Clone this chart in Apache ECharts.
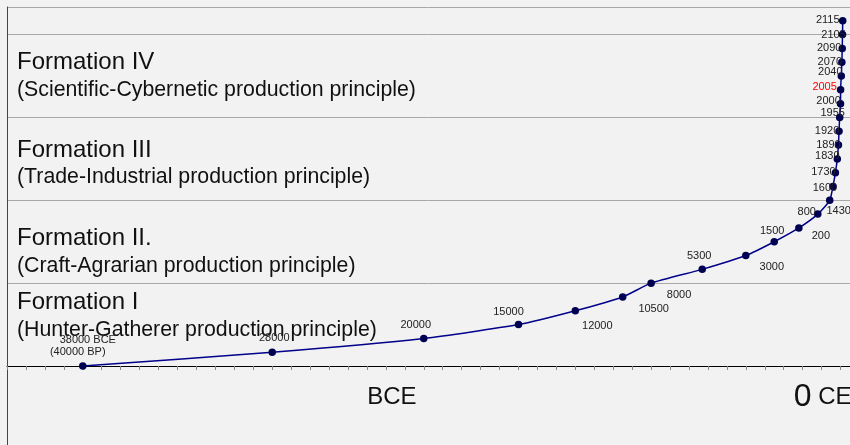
<!DOCTYPE html>
<html>
<head>
<meta charset="utf-8">
<script src="https://cdn.jsdelivr.net/npm/echarts@6/dist/echarts.min.js"></script>
<style>
html, body { margin: 0; padding: 0; background: #f2f2f2; }
#chart { width: 850px; height: 445px; }
</style>
</head>
<body>
<div id="chart"></div>
<script>
// year of each point (negative = BCE), as placed on the time axis
const years = [-38000, -28000, -20000, -15000, -12000, -9500, -8000, -5300, -3000, -1500, -200,
    800, 1430, 1600, 1730, 1830, 1890, 1920, 1955, 2000, 2005, 2040, 2070, 2090, 2105, 2115];
// step (level) of each point
const levels = [0, 1, 2, 3, 4, 5, 6, 7, 8, 9, 10, 11, 12, 13, 14, 15, 16, 17, 18, 19, 20, 21, 22, 23, 24, 25];
const pointLabels = ['{a|38000 BCE}\n{b|(40000 BP)}', '28000', '20000', '15000', '12000', '10500', '8000',
    '5300', '3000', '1500', '200', '800', '1430', '1600', '1730', '1830', '1890', '1920', '1955',
    '2000', '2005', '2040', '2070', '2090', '2105', '2115'];
const highlightLabel = '2005';
const formationTitles = ['Formation I', 'Formation II.', 'Formation III', 'Formation IV'];
const formationSubtitles = ['(Hunter-Gatherer production principle)', '(Craft-Agrarian production principle)',
    '(Trade-Industrial production principle)', '(Scientific-Cybernetic production principle)'];

// label offsets (px) from each point's centre
const labelOffsets = [[-5, -20], [2, -14], [-8, -13], [-10, -13], [22, 15], [31, 12], [28, 12],
    [-3, -13], [26, 11], [-2, -11], [22, 8], [-11, -2], [9, 11], [-8, 1], [-12, -1], [-10, -3],
    [-10, 0], [-12, 0], [-7, -4], [-12, -3], [-16, -3], [-11, -4], [-12, 0], [-13, 0], [-9, 0], [-15, -1]];
const titleY = [302, 238, 150, 62];
const subtitleY = [330, 266, 177, 90];

const FONT = 'Liberation Sans, Arial, sans-serif';
const chart = echarts.init(document.getElementById('chart'));

const data = years.map((y, i) => ({
    value: [y, levels[i]],
    label: {
        formatter: pointLabels[i],
        offset: labelOffsets[i],
        color: pointLabels[i] === highlightLabel ? '#ff0000' : '#222'
    }
}));

const graphics = [
    // frame line continuing below the time axis
    { type: 'line', silent: true, shape: { x1: 7.5, y1: 366, x2: 7.5, y2: 445 }, style: { stroke: '#444', lineWidth: 1 } }
];
formationTitles.forEach((t, i) => {
    graphics.push({
        type: 'text', x: 17, y: titleY[i], silent: true,
        style: { text: t, fontSize: 24, fontFamily: FONT, fill: '#111', verticalAlign: 'middle' }
    });
    graphics.push({
        type: 'text', x: 17, y: subtitleY[i], silent: true,
        style: { text: formationSubtitles[i], fontSize: 21.3, fontFamily: FONT, fill: '#111', verticalAlign: 'middle' }
    });
});

const option = {
    backgroundColor: '#f2f2f2',
    animation: false,
    grid: { left: 7, top: 7, width: 843, height: 359, outerBoundsMode: 'none', containLabel: false },
    xAxis: {
        type: 'value',
        min: -42000,
        max: 2500,
        interval: 1000,
        axisLine: { onZero: false, lineStyle: { color: '#000', width: 1 } },
        axisTick: { show: true, length: 4, lineStyle: { color: '#888' } },
        splitLine: { show: false },
        axisLabel: {
            margin: 15,
            fontFamily: FONT,
            fontSize: 24,
            color: '#111',
            lineHeight: 32,
            formatter: function (v) {
                if (v === -22000) return '{b|BCE}';
                if (v === 0) return '{sp|}{z|0}{c| CE}';
                return '';
            },
            rich: {
                b: { fontSize: 24, lineHeight: 32, padding: [0, 0, 0, 12] },
                sp: { width: 40, lineHeight: 32 },
                z: { fontSize: 32, lineHeight: 32 },
                c: { fontSize: 24, lineHeight: 32 }
            }
        }
    },
    yAxis: {
        type: 'value',
        min: 0,
        max: 26,
        interval: 6,
        axisLine: { show: true, onZero: false, lineStyle: { color: '#444' } },
        axisTick: { show: false },
        axisLabel: { show: false },
        splitLine: { show: true, lineStyle: { color: '#a8a8a8', width: 1 } }
    },
    graphic: graphics,
    series: [{
        type: 'line',
        data: data,
        smooth: 0.2,
        symbol: 'circle',
        symbolSize: 7.5,
        itemStyle: { color: '#000050' },
        lineStyle: { color: '#00008b', width: 1.5 },
        label: {
            show: true,
            position: 'inside',
            fontFamily: FONT,
            fontSize: 11,
            lineHeight: 12,
            rich: {
                a: { padding: [0, 0, 0, 20], fontSize: 11, lineHeight: 12 },
                b: { fontSize: 11, lineHeight: 12 }
            }
        },
        z: 5
    }]
};

chart.setOption(option);
</script>
</body>
</html>
